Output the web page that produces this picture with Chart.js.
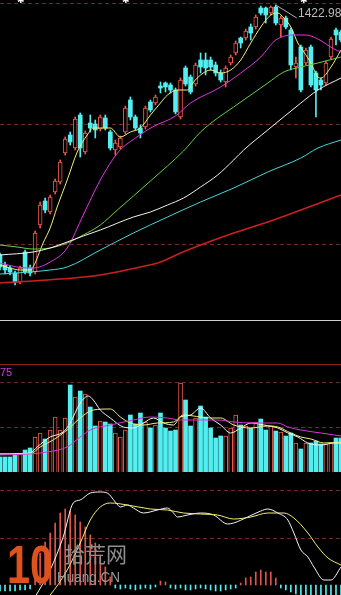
<!DOCTYPE html>
<html>
<head>
<meta charset="utf-8">
<script src="https://cdn.jsdelivr.net/npm/chart.js@4.4.1/dist/chart.umd.min.js"></script>
<style>
html, body { margin: 0; padding: 0; background: #000; width: 341px; height: 595px; overflow: hidden; }
#wrap { position: relative; width: 341px; height: 595px; background: #000; overflow: hidden; }
canvas { position: absolute; left: 0; display: block; }
.t { position: absolute; white-space: nowrap; font-family: "Liberation Sans", Arial, sans-serif; line-height: 1; }
.hr { position: absolute; left: 0; width: 341px; height: 1px; }
</style>
</head>
<body>
<div id="wrap">
  <canvas id="price" width="341" height="318" style="top:0"></canvas>
  <div class="hr" style="top:320px;background:#d0d0d0"></div>
  <div class="hr" style="top:364px;background:#8a1c1c"></div>
  <canvas id="vol" width="341" height="107" style="top:365px"></canvas>
  <canvas id="macd" width="341" height="123" style="top:472px"></canvas>

  <div class="t" style="left:17px;top:-4px;font-size:9px;color:#fff">✱</div>
  <div class="t" style="left:122px;top:-4px;font-size:9px;color:#fff">✱</div>
  <div class="t" style="left:300px;top:-4px;font-size:9px;color:#fff">✱</div>
  <div class="t" id="maxText" style="left:298px;top:7px;font-size:12px;color:#bcbcbc"></div>
  <div class="t" style="left:0;top:367px;font-size:11px;color:#d838d8">75</div>

  <div class="t" style="left:7px;top:538px;font-weight:bold;font-size:53px;color:#e0521c;transform:scaleX(.78);transform-origin:left top">10</div>
  <div class="t" style="left:64px;top:543px;font-family:'Noto Sans CJK SC';font-size:21px;color:#8e8e8e">拾荒网</div>
  <div class="t" style="left:57px;top:569px;font-size:15px;color:#9a9a9a;transform:scaleX(.9);transform-origin:left top">Huang.CN</div>
</div>

<script>
// candles (price units)
const candleOpen  = [1173,1163,1160,1155,1146,1176,1160,1156,1203,1227,1216,1236,1246,1275,1293,1280,1313,1276,1305,1304,1299,1310,1296,1278,1281,1296,1328,1311,1300,1301,1326,1325,1342,1345,1343,1338,1311,1360,1351,1344,1368,1368,1368,1363,1355,1346,1365,1375,1390,1390,1401,1401,1420,1420,1415,1421,1403,1410,1398,1361,1381,1365,1381,1355,1348,1345,1371,1398,1396];
const candleClose = [1161,1158,1156,1146,1160,1156,1155,1195,1223,1218,1231,1247,1266,1289,1286,1309,1280,1295,1300,1298,1311,1300,1280,1285,1290,1320,1311,1300,1295,1320,1318,1331,1340,1341,1338,1316,1348,1344,1336,1363,1361,1360,1361,1355,1348,1360,1371,1385,1385,1397,1395,1411,1415,1413,1421,1405,1410,1401,1363,1365,1338,1378,1343,1338,1343,1365,1389,1393,1388];
const candleHigh  = [1175,1166,1162,1157,1162,1178,1163,1197,1226,1230,1233,1249,1268,1291,1296,1311,1315,1297,1313,1308,1313,1313,1298,1288,1292,1322,1331,1313,1303,1322,1328,1333,1346,1346,1345,1340,1350,1362,1353,1365,1375,1375,1371,1366,1358,1362,1373,1387,1391,1399,1404,1413,1422,1421,1422,1422.98,1412,1412,1400,1371,1383,1380,1383,1357,1350,1367,1391,1400,1398];
const candleLow   = [1158,1154,1153,1143,1144,1154,1152,1154,1200,1215,1214,1234,1244,1273,1283,1278,1271,1274,1296,1290,1297,1298,1278,1273,1279,1294,1308,1298,1290,1299,1316,1323,1335,1336,1335,1314,1309,1342,1334,1342,1355,1353,1358,1352,1346,1341,1363,1373,1380,1388,1388,1399,1413,1405,1413,1403,1391,1399,1358,1350,1336,1363,1341,1311,1338,1343,1369,1383,1386];

// price moving averages: [candle index] / [value]
const ma5X   = [0,2,4,6,6.6,8.6,10,11.4,13.4,15.4,17.4,18.6,20,22,24,26,28,30,32,33.4,35.4,37.4,38.6,40,42,44,46,48,50,52,54,55.4,56.6,58,59.4,60.6,62,63.4,64,66,68];
const ma5    = [1163,1160,1158,1158,1161,1185,1200,1221,1248,1276,1293,1300,1300,1300,1291,1296,1300,1313,1325,1333,1338,1338,1346,1353,1358,1355,1358,1368,1385,1401,1413,1415,1410,1401,1385,1376,1365,1351,1350,1361,1378];
const ma10X  = [0,3.4,6.6,10,13.4,16.6,20,23.6,27,30.4,35,38,44,48,52,55,59,61,63.4,66.6,68];
const ma10   = [1165,1161,1160,1166,1180,1213,1248,1276,1290,1301,1312,1325,1341,1355,1371,1388,1393,1393,1389,1379,1376];
const ma20X  = [0,3.4,6.6,10,13.4,16.6,20,23.4,26.6,30,33.4,36.6,40,43.4,46.6,50,53.4,56.6,60,63.4,68];
const ma20   = [1183,1181,1179,1180,1185,1193,1203,1218,1232,1247,1262,1277,1296,1310,1321,1333,1345,1356,1361,1365,1371];
const ma30X  = [0,6.6,10,13.4,16.6,20,26.6,30,33.4,36.6,40,43.4,46.6,48.6,53.4,60,63.4,68];
const ma30   = [1173,1176,1180,1186,1192,1198,1211,1216,1223,1230,1241,1253,1268,1278,1298,1325,1338,1350];
const ma60X  = [0,6,10,13.4,20,26.6,33.4,40,46.6,53.4,60,63.4,68];
const ma60   = [1154,1156,1158,1161,1178,1195,1211,1226,1240,1256,1270,1280,1288];
const ma120X = [0,6.6,20,28,32,36,40,46.6,53.4,60,68];
const ma120  = [1145,1147,1153,1161,1166,1175,1183,1195,1206,1218,1233];
const priceGrid = [1424,1304,1184];

// volume
const volume = [15,15,15,18,19,22,24,35,39,33,42,55,42,54,87,75,81,78,65,46,51,50,48,39,35,42,57,48,59,50,44,47,59,44,41,42,89,72,46,54,66,55,44,34,36,36,44,57,47,46,44,50,53,42,46,41,40,36,39,29,23,29,29,31,28,28,29,34,34];
const volMa5X  = [0,6,7.4,10,12.6,14,16,17.6,18.6,20,22,24.6,26.6,28.6,30.6,32.6,34.6,36,38,40,42,44,46,48,50,52.6,55.4,57.4,59.4,61.4,64,66.6,68];
const volMa5   = [18,19,25,35,40,49,69,76,72,62,54,45,44,49,54,49,47,55,57,64,54,47,39,44,49,47,44,39,35,29,27,29,29];
const volMa10X = [0,6,8,10.6,13.4,16,18.6,22,24,26,28.6,31.4,34.6,36.6,40,42,44,46.6,50,53.4,55.4,58,60,62,64.6,68];
const volMa10  = [18,18,25,32,42,54,62,63,55,49,47,49,50,57,55,54,54,47,44,46,45,39,35,33,29,30];
const volMa20X = [0,6,9.4,13.4,16,18,22,26.6,30,33.4,36,40,43.4,46.6,50.6,55.4,57.4,60,64,68];
const volMa20  = [17,18,20,25,35,42,47,52,55,54,52,52,52,50,49,49,45,42,39,36];
const volGrid = [90,45];

// MACD
const macdHist = [-6,-6,-6,-6,-5,-5,-4,18,32,43,52,62,72,76,74,70,63,58,50,42,30,18,8,-3,-4,-3,-4,-5,-4,-3,-4,-2,4,3,-3,-4,-3,-5,-5,-4,-3,-4,-5,-6,-6,-5,-4,-3,2,7,8,13,15,13,13,7,-3,-5,-7,-9,-11,-11,-11,-11,-11,-11,-11,-11,-11];
const difX = [7,10,12.6,14.6,16,18,20,21.4,23,24,25.4,26.6,28.6,31.4,33.4,34.6,35.4,37.4,40,42.6,45.4,46.6,49.4,52,53.4,55.4,57.4,58.6,60,61.4,62.6,64.6,66,68];
const dif  = [-12,15,48,82,85,92,93,92,83,78,80,77,72,75,77,72,68,70,72,70,61,62,68,74,76,72,65,52,35,28,18,5,5,18];
const deaX = [9.6,10,13.4,16,18,20,22,25.4,30,33.4,36.6,40,43.4,46.6,50,53.4,56.6,58.6,61.4,63.4,65.4,68];
const dea  = [-12,-10,15,42,65,78,82,80,76,75,72,71,70,66,68,72,72,67,52,38,27,20];
const macdGrid = [94,47];

const RED = '#f0584c', CYAN = '#52eef0';
const idx = candleOpen.map((_, i) => i);
const up = idx.map(i => candleClose[i] >= candleOpen[i]);

const line = (xs, ys, color, w) => ({
  type: 'line',
  data: xs.map((x, k) => ({ x: x, y: ys[k] })),
  borderColor: color, borderWidth: w || 1, pointRadius: 0,
  cubicInterpolationMode: 'monotone', fill: false, order: -1
});

function panel(id, yMin, yMax, grid, datasets, plugins) {
  return new Chart(document.getElementById(id), {
    type: 'bar',
    data: { datasets: datasets },
    options: {
      responsive: false, animation: false, devicePixelRatio: 1,
      layout: { padding: 0 },
      plugins: { legend: { display: false }, tooltip: { enabled: false } },
      scales: {
        x: { type: 'linear', min: 0, max: 68, offset: false, display: false },
        y: {
          min: yMin, max: yMax,
          ticks: { display: false },
          border: { display: false, dash: [4, 3] },
          grid: { color: '#6e2a2a', drawTicks: false, lineWidth: 1 },
          afterFit(s) { s.width = 0; },
          afterBuildTicks(s) { s.ticks = grid.map(v => ({ value: v })); }
        }
      }
    },
    plugins: plugins || []
  });
}

// leader line to the highest price
const maxMark = {
  id: 'maxMark',
  afterDatasetsDraw(chart) {
    const top = Math.max(...candleHigh);
    const k = candleHigh.indexOf(top);
    const x = chart.scales.x.getPixelForValue(k);
    const y = chart.scales.y.getPixelForValue(top);
    const c = chart.ctx;
    c.save();
    c.strokeStyle = '#b0b0b0';
    c.lineWidth = 1;
    c.beginPath(); c.moveTo(x, y); c.lineTo(x + 21, y + 13); c.stroke();
    c.restore();
  }
};
document.getElementById('maxText').textContent = Math.max(...candleHigh).toFixed(2);

panel('price', 1110, 1428, priceGrid, [
  line(ma120X, ma120, '#cc2020', 1.5),
  line(ma60X, ma60, '#44d8d8'),
  line(ma30X, ma30, '#f2f2f2'),
  line(ma20X, ma20, '#66d040'),
  line(ma10X, ma10, '#e036e0'),
  line(ma5X, ma5, '#f0f07a'),
  {
    type: 'bar', label: 'body', grouped: false, order: 1,
    data: idx.map(i => ({ x: i, y: [candleOpen[i], candleClose[i]] })),
    backgroundColor: idx.map(i => up[i] ? '#000' : CYAN),
    borderColor: idx.map(i => up[i] ? RED : CYAN),
    borderWidth: idx.map(i => up[i] ? 1 : 0),
    borderSkipped: false, barThickness: 4, minBarLength: 1
  },
  {
    type: 'bar', label: 'wick', grouped: false, order: 2,
    data: idx.map(i => ({ x: i, y: [candleLow[i], candleHigh[i]] })),
    backgroundColor: idx.map(i => up[i] ? RED : CYAN),
    barThickness: 1
  }
], [maxMark]);

panel('vol', 0, 107, volGrid, [
  line(volMa20X, volMa20, '#d836d8'),
  line(volMa10X, volMa10, '#f0f07a'),
  line(volMa5X, volMa5, '#f4f4f4'),
  {
    type: 'bar', label: 'volume', grouped: false, order: 1,
    data: idx.map(i => ({ x: i, y: volume[i] })),
    backgroundColor: idx.map(i => up[i] ? '#000' : CYAN),
    borderColor: idx.map(i => up[i] ? RED : CYAN),
    borderWidth: idx.map(i => up[i] ? 1 : 0),
    borderSkipped: 'start', barThickness: 4
  }
]);

panel('macd', -10, 113, macdGrid, [
  line(deaX, dea, '#f0f07a'),
  line(difX, dif, '#f4f4f4'),
  {
    type: 'bar', label: 'hist', grouped: false, order: 1,
    data: idx.map(i => ({ x: i, y: macdHist[i] })),
    backgroundColor: idx.map(i => macdHist[i] >= 0 ? '#e0544c' : CYAN),
    barThickness: 1
  }
]);
</script>
</body>
</html>
